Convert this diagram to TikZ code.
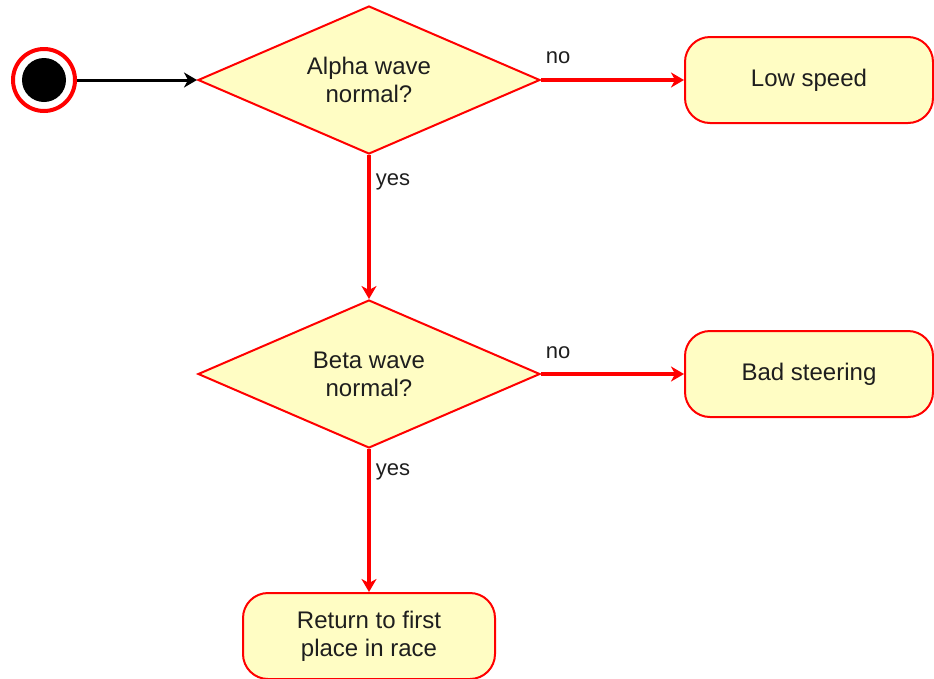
\documentclass[tikz,border=0pt]{standalone}
\usepackage{fontspec}
\setmainfont{Liberation Sans}
\usetikzlibrary{shapes.geometric,arrows.meta}
\definecolor{boxfill}{RGB}{255,253,196}
\definecolor{txt}{RGB}{30,30,30}
\tikzset{
  decision/.style={diamond, draw=red, fill=boxfill, line width=2pt, inner sep=0pt,
    aspect=2.3, minimum width=342pt, minimum height=148pt, align=center,
    font=\fontsize{24}{28}\selectfont, text=txt},
  action/.style={rectangle, rounded corners=25pt, draw=red, fill=boxfill, line width=2pt,
    minimum width=248pt, minimum height=86pt, align=center,
    font=\fontsize{24}{28}\selectfont, text=txt},
  flow/.style={draw=red, line width=4pt, -{Stealth[length=13pt,width=15pt,inset=4pt]}},
  lbl/.style={font=\fontsize{22}{24}\selectfont, text=txt, inner sep=0pt},
}
\begin{document}
\begin{tikzpicture}[x=1pt,y=-1pt]
\useasboundingbox (0,0) rectangle (934,678);
\clip (0,0) rectangle (934,678);
\node (ring) [circle, draw=red, line width=4pt, fill=white, minimum size=62pt, inner sep=0pt] at (44,80) {};
\node (start) [circle, fill=black, minimum size=44pt, inner sep=0pt] at (44,80) {};
\node (alpha) [decision] at (369,80) {Alpha wave\\normal?};
\node (beta) [decision] at (369,374) {Beta wave\\normal?};
\node (low) [action] at (809,80) {Low speed};
\node (bad) [action] at (809,374) {Bad steering};
\node (ret) [action, minimum width=252pt] at (369,636) {Return to first\\place in race};
\draw[line width=3pt, -{Stealth[length=13pt,width=15pt,inset=4pt]}] (ring.east) -- (alpha.west);
\draw[flow] (alpha.east) -- (low.west);
\draw[flow] (alpha.south) -- (beta.north);
\draw[flow] (beta.east) -- (bad.west);
\draw[flow] (beta.south) -- (ret.north);
\node (l1) [lbl] at (558,58) {no};
\node (l2) [lbl] at (393,182) {yes};
\node (l3) [lbl] at (558,353) {no};
\node (l4) [lbl] at (393,472) {yes};
\end{tikzpicture}
\end{document}
